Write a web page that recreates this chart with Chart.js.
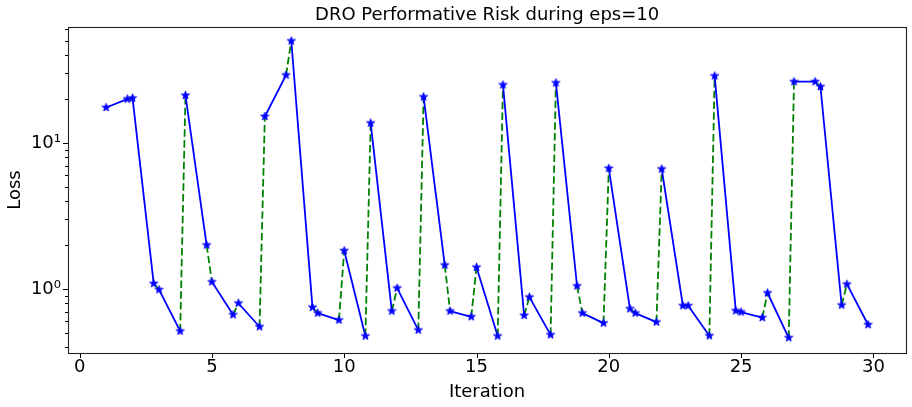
<!DOCTYPE html>
<html>
<head>
<meta charset="utf-8">
<script src="https://cdn.jsdelivr.net/npm/chart.js@4.4.1/dist/chart.umd.min.js"></script>
<style>
html, body { margin: 0; padding: 0; background: #fff; }
#wrap { width: 912px; height: 407px; }
</style>
</head>
<body>
<div id="wrap"><canvas id="riskChart"></canvas></div>
<script>
// iteration of each measurement (k = start of round, k+0.8 = end of round)
const iterations = [
  1, 1.8, 2, 2.8, 3, 3.8, 4, 4.8, 5, 5.8,
  6, 6.8, 7, 7.8, 8, 8.8, 9, 9.8, 10, 10.8,
  11, 11.8, 12, 12.8, 13, 13.8, 14, 14.8, 15, 15.8,
  16, 16.8, 17, 17.8, 18, 18.8, 19, 19.8, 20, 20.8,
  21, 21.8, 22, 22.8, 23, 23.8, 24, 24.8, 25, 25.8,
  26, 26.8, 27, 27.8, 28, 28.8, 29, 29.8
];
const losses = [
  17.5, 20.0, 20.3, 1.09, 0.99, 0.515, 21.2, 2.0, 1.12, 0.667,
  0.80, 0.552, 15.2, 29.2, 50.0, 0.75, 0.685, 0.613, 1.83, 0.477,
  13.7, 0.707, 1.016, 0.524, 20.7, 1.46, 0.707, 0.646, 1.41, 0.477,
  25.0, 0.66, 0.88, 0.486, 25.8, 1.05, 0.685, 0.585, 6.71, 0.733,
  0.685, 0.594, 6.64, 0.769, 0.769, 0.479, 28.8, 0.71, 0.696, 0.637,
  0.94, 0.464, 26.3, 26.3, 24.3, 0.777, 1.08, 0.57
];
const xTicks = [0, 5, 10, 15, 20, 25, 30];
const yTicks = [1, 10];
const yTickLabels = ['10⁰', '10¹'];
const yMinorTicks = [0.4, 0.5, 0.6, 0.7, 0.8, 0.9, 2, 3, 4, 5, 6, 7, 8, 9, 20, 30, 40, 50, 60];

const FONT = { family: 'DejaVu Sans', size: 18 };

// matplotlib style filled star marker
function makeStar(r) {
  const c = document.createElement('canvas');
  const s = Math.ceil(r * 2 + 4);
  c.width = s; c.height = s;
  const g = c.getContext('2d');
  const inner = r * 0.382;
  g.translate(s / 2, s / 2);
  g.beginPath();
  for (let i = 0; i < 10; i++) {
    const rad = i % 2 ? inner : r;
    const a = -Math.PI / 2 + i * Math.PI / 5;
    g.lineTo(rad * Math.cos(a), rad * Math.sin(a));
  }
  g.closePath();
  g.fillStyle = '#0000ff';
  g.fill();
  g.strokeStyle = '#0000ff';
  g.lineWidth = 1;
  g.stroke();
  return c;
}

// axes frame and tick marks
const frameTicks = {
  id: 'frameTicks',
  afterDraw(chart) {
    const { ctx, chartArea: a, scales } = chart;
    ctx.save();
    ctx.strokeStyle = '#000';
    ctx.lineWidth = 1;
    ctx.beginPath();
    xTicks.forEach(v => {
      const px = Math.round(scales.x.getPixelForValue(v)) + 0.5;
      ctx.moveTo(px, a.bottom); ctx.lineTo(px, a.bottom + 5);
    });
    yTicks.forEach(v => {
      const py = Math.round(scales.y.getPixelForValue(v)) + 0.5;
      ctx.moveTo(a.left, py); ctx.lineTo(a.left - 5, py);
    });
    yMinorTicks.forEach(v => {
      const py = Math.round(scales.y.getPixelForValue(v)) + 0.5;
      ctx.moveTo(a.left, py); ctx.lineTo(a.left - 3, py);
    });
    ctx.stroke();
    ctx.strokeStyle = '#222';
    ctx.lineWidth = 1.1;
    ctx.strokeRect(Math.round(a.left) + 0.5, Math.round(a.top) + 0.5,
      Math.round(a.right - a.left), Math.round(a.bottom - a.top));
    ctx.restore();
  }
};

const ctxRisk = document.getElementById('riskChart').getContext('2d');
new Chart(ctxRisk, {
  type: 'line',
  data: {
    datasets: [{
      data: iterations.map((x, i) => ({ x: x, y: losses[i] })),
      borderColor: '#0000ff',
      borderWidth: 1.8,
      tension: 0,
      fill: false,
      pointStyle: makeStar(4.3),
      pointRadius: 4,
      segment: {
        borderColor: c => (c.p0DataIndex % 2 ? '#008000' : '#0000ff'),
        borderDash: c => (c.p0DataIndex % 2 ? [7.5, 3.3] : [])
      }
    }]
  },
  options: {
    responsive: true,
    maintainAspectRatio: false,
    animation: false,
    layout: { padding: { left: 0, right: 4, top: 0, bottom: 0 } },
    plugins: {
      legend: { display: false },
      tooltip: { enabled: false },
      title: {
        display: true,
        text: 'DRO Performative Risk during eps=10',
        color: '#000',
        font: { family: FONT.family, size: 18, weight: 'normal' },
        padding: { top: 5, bottom: 0.4 },
        fullSize: false
      }
    },
    scales: {
      x: {
        type: 'linear',
        min: -0.44,
        max: 31.24,
        afterBuildTicks: s => { s.ticks = xTicks.map(v => ({ value: v })); },
        afterFit: s => { s.height = 54; },
        ticks: { color: '#000', font: FONT, padding: 4, maxRotation: 0, autoSkip: false },
        grid: { display: false, drawTicks: false },
        border: { display: false },
        title: { display: true, text: 'Iteration', color: '#000', font: FONT, padding: { top: 0, bottom: 4 } }
      },
      y: {
        type: 'logarithmic',
        min: 0.365,
        max: 62.3,
        afterBuildTicks: s => { s.ticks = yTicks.map(v => ({ value: v })); },
        afterFit: s => { s.width = 68; },
        ticks: {
          color: '#000',
          font: FONT,
          padding: 7,
          autoSkip: false,
          callback: v => yTickLabels[yTicks.indexOf(v)] || ''
        },
        grid: { display: false, drawTicks: false },
        border: { display: false },
        title: { display: true, text: 'Loss', color: '#000', font: FONT, padding: { top: 5, bottom: 0 } }
      }
    }
  },
  plugins: [frameTicks]
});
</script>
</body>
</html>
